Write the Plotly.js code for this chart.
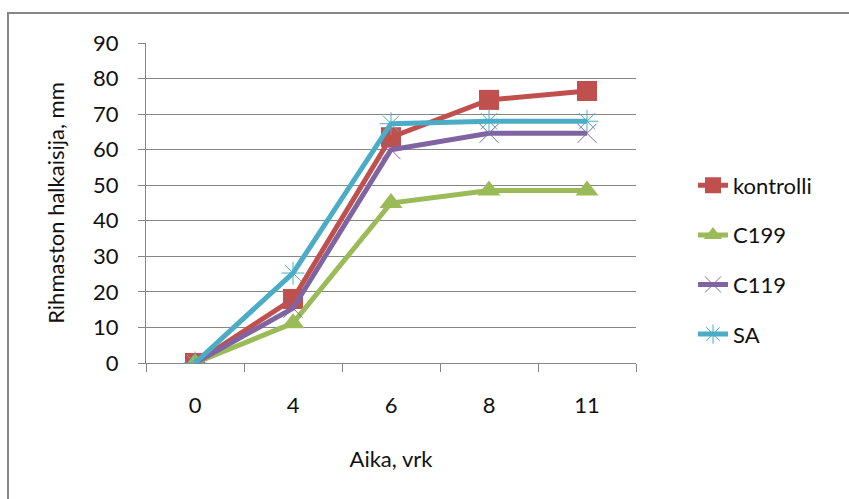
<!DOCTYPE html>
<html>
<head>
<meta charset="utf-8">
<script src="https://cdn.plot.ly/plotly-3.0.1.min.js"></script>
<style>
  html, body { margin: 0; padding: 0; background: #ffffff; }
  #chart { width: 849px; height: 499px; }
</style>
</head>
<body>
<div id="chart"></div>
<script>
// Growth days (category axis)
const days = ['0', '4', '6', '8', '11'];

// Mycelium diameter (mm) per treatment
const kontrolli = [0, 18, 63.5, 74, 76.5];
const c199 = [0, 11.2, 45, 48.5, 48.5];
const c119 = [0, 15.4, 60, 64.6, 64.6];
const sa = [0, 25.3, 67.3, 68, 68];

const seriesNames = ['kontrolli', 'C199', 'C119', 'SA'];
const seriesValues = [kontrolli, c199, c119, sa];
const seriesColors = ['#C0504D', '#9BBB59', '#8064A2', '#4BACC6'];
const seriesSymbols = ['square', 'triangle-up', 'x-thin-open', 'asterisk-open'];
const markerSizes = [20, 20, 19, 19];

const axisGray = '#868686';
const textFont = { family: 'Lato, "Open Sans", sans-serif', size: 22, color: '#111111' };

const traces = seriesValues.map((vals, i) => ({
  type: 'scatter',
  mode: 'lines+markers',
  name: seriesNames[i],
  legendgroup: 'g' + i,
  x: days,
  y: vals,
  line: { color: seriesColors[i], width: 5 },
  marker: {
    symbol: seriesSymbols[i],
    size: markerSizes[i],
    color: seriesColors[i],
    line: { color: seriesColors[i], width: i >= 2 ? 1 : 0 }
  }
}));

// Plot area spans 146..636 px horizontally and 43..363 px vertically
const M = { l: 146, r: 213, t: 43, b: 136 };
const plotW = 849 - M.l - M.r;
const plotH = 499 - M.t - M.b;

const layout = {
  width: 849,
  height: 499,
  margin: M,
  paper_bgcolor: '#ffffff',
  plot_bgcolor: '#ffffff',
  font: textFont,
  showlegend: true,
  legend: {
    x: (693 - M.l) / plotW,
    y: 1 - (260 - M.t) / plotH,
    xanchor: 'left',
    yanchor: 'middle',
    font: textFont,
    traceorder: 'grouped',
    tracegroupgap: 18,
    itemsizing: 'trace',
    bgcolor: 'rgba(0,0,0,0)'
  },
  xaxis: {
    type: 'category',
    range: [-0.5, days.length - 0.5],
    showgrid: false,
    showline: true,
    linecolor: axisGray,
    linewidth: 1,
    ticks: 'outside',
    tickson: 'boundaries',
    ticklen: 8,
    tickcolor: axisGray,
    ticklabelstandoff: 23,
    tickfont: textFont,
    zeroline: false,
    fixedrange: true,
    title: { text: 'Aika, vrk', font: textFont, standoff: 34 }
  },
  yaxis: {
    range: [0, 90],
    dtick: 10,
    showgrid: true,
    gridcolor: axisGray,
    gridwidth: 1,
    showline: true,
    linecolor: axisGray,
    linewidth: 1,
    ticks: 'outside',
    ticklen: 7,
    tickcolor: axisGray,
    ticklabelstandoff: 15,
    tickfont: textFont,
    zeroline: false,
    fixedrange: true,
    title: { text: 'Rihmaston halkaisija, mm', font: textFont, standoff: 22 }
  },
  shapes: [{
    // Outer chart frame (runs off the right and bottom edges)
    type: 'rect',
    xref: 'paper', yref: 'paper',
    x0: (8 - M.l) / plotW, x1: 1.6,
    y0: -0.8, y1: 1 + (M.t - 13) / plotH,
    line: { color: axisGray, width: 2 },
    layer: 'below'
  }]
};

Plotly.newPlot('chart', traces, layout, { displayModeBar: false, staticPlot: true });
</script>
</body>
</html>
